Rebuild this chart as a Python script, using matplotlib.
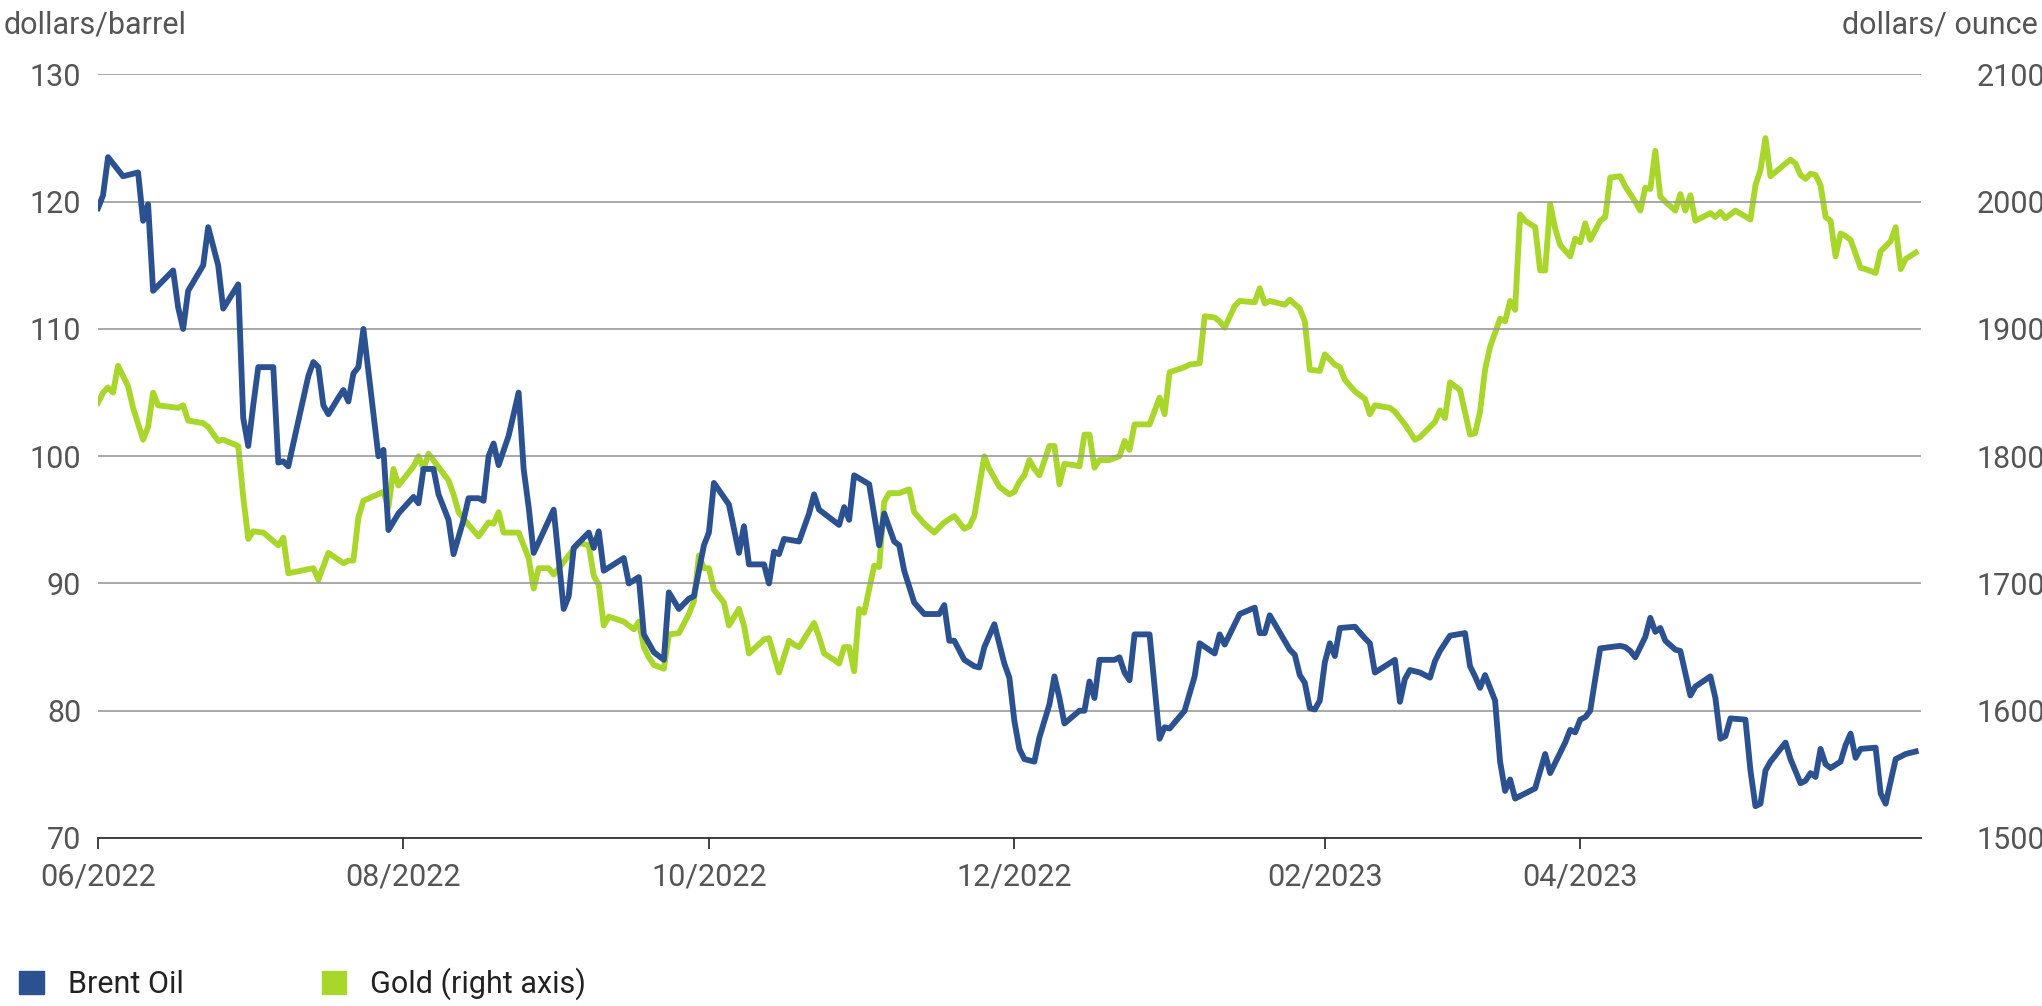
import matplotlib
matplotlib.use("Agg")
import matplotlib.pyplot as plt
from matplotlib.patches import Patch

plt.rcParams["font.family"] = "Roboto"

# x positions: day index on the chart's time scale (0 = start of 06/2022)
oil_days = [0,1,2,3,5,8,9,10,11,15,16,17,18,21,22,24,25,28,29,30,31,32,35,36,37,38,39,42,43,44,45,46,48,49,50,51,52,53,56,57,58,60,63,64,65,67,68,70,71,73,74,76,77,78,79,80,82,84,85,86,87,91,93,94,95,98,99,100,101,105,106,108,109,111,113,114,116,118,119,121,122,123,126,128,129,130,133,134,135,136,137,140,142,143,144,148,149,150,151,154,156,157,159,160,161,163,165,168,169,170,171,173,175,176,177,179,181,182,183,184,185,187,188,190,191,192,193,196,197,198,199,200,203,204,205,206,207,209,210,212,213,214,217,219,220,223,224,225,226,228,231,232,233,234,238,239,240,241,242,243,244,245,246,247,248,251,253,254,255,257,259,260,261,262,264,266,267,268,270,273,274,275,276,277,279,280,281,282,283,287,289,290,293,294,295,296,297,298,299,300,304,305,306,307,309,310,311,312,313,315,316,318,319,322,323,324,325,326,329,330,331,332,333,334,337,338,340,341,342,343,344,345,346,348,349,350,351,352,355,356,357,359,361,363]
oil = [119.5,120.5,123.5,123,122,122.3,118.5,119.8,113,114.6,111.7,110,113,115,118,115,111.6,113.5,103,100.8,104,107,107,99.5,99.6,99.2,101,106.3,107.4,107,104,103.3,104.6,105.2,104.3,106.5,107,110,100,100.5,94.2,95.5,96.8,96.3,99,99,97,95,92.3,95,96.7,96.7,96.5,100,101,99.3,101.6,105,99,96,92.4,95.8,88,89,92.8,94,92.8,94.1,91,92,90,90.5,86,84.6,84,89.3,88,88.8,89,93,94,97.9,96.2,92.4,94.5,91.5,91.5,90,92.5,92.3,93.5,93.3,95.5,97,95.8,94.6,96,95,98.5,97.8,93,95.5,93.3,93,91,88.5,87.6,87.6,88.3,85.5,85.5,84,83.5,83.4,85,86.8,83.7,82.6,79.2,77,76.2,76,77.9,80.5,82.7,81,79,80,80,82.3,81,84,84,84.2,83,82.4,86,86,86,77.8,78.7,78.6,80,82.7,85.3,84.5,86,85.2,86,87.6,88.1,86.1,86.1,87.5,84.8,84.4,82.8,82.2,80.2,80.1,80.8,83.8,85.3,84.3,86.5,86.6,85.7,85.3,83,83.5,84,80.7,82.5,83.2,83,82.6,83.9,84.7,85.9,86.1,83.5,82.7,81.8,82.8,80.8,76,73.7,74.6,73.1,73.9,76.6,75.1,77.5,78.5,78.3,79.3,79.5,80,82.5,84.9,85.1,85,84.7,84.2,85.8,87.3,86.2,86.5,85.5,84.8,84.7,81.2,81.9,82.7,81,77.8,78,79.4,79.3,75.3,72.5,72.7,75.3,76,77.5,76.2,74.3,74.5,75.1,74.8,77,75.8,75.5,76,77.3,78.2,76.3,77,77.1,73.5,72.7,76.2,76.6,76.8]

gold_days = [0,1,2,3,4,6,7,9,10,11,12,16,17,18,21,22,24,25,28,29,30,31,33,36,37,38,43,44,46,49,50,51,52,53,57,58,59,60,63,64,65,66,70,71,72,74,76,78,79,80,81,84,85,86,87,88,90,91,93,94,96,98,99,100,101,102,105,107,108,109,110,111,113,114,116,118,119,120,121,122,123,125,126,128,129,130,133,134,136,138,139,140,143,144,145,147,148,149,150,151,152,153,155,156,157,158,160,162,163,165,167,169,171,173,174,175,177,178,180,182,183,184,185,186,187,188,190,191,192,193,195,196,197,198,199,200,202,204,205,206,207,209,210,212,213,214,217,218,220,221,223,224,225,227,228,231,232,233,234,237,238,240,241,242,244,245,247,248,249,251,253,254,255,258,259,261,263,264,265,267,268,269,270,271,272,274,275,276,277,278,280,281,282,283,284,285,287,288,289,290,291,292,294,295,296,297,298,300,301,302,304,305,306,307,308,309,310,311,312,313,315,316,317,318,319,320,322,323,324,325,327,330,331,332,333,334,337,338,339,340,341,342,343,344,345,346,347,348,349,350,352,353,355,356,358,359,360,361,363]
gold = [1842,1850,1854,1850,1871,1855,1838,1813,1823,1850,1840,1838,1840,1828,1826,1823,1812,1813,1808,1768,1735,1741,1740,1730,1736,1708,1712,1703,1724,1716,1718,1718,1752,1765,1772,1760,1790,1777,1792,1800,1790,1802,1781,1770,1756,1746,1737,1748,1747,1756,1740,1740,1730,1720,1696,1712,1712,1707,1717,1722,1732,1730,1706,1699,1667,1674,1670,1664,1670,1650,1642,1636,1633,1660,1661,1676,1686,1722,1712,1712,1695,1685,1667,1680,1667,1645,1656,1657,1630,1655,1652,1650,1669,1658,1645,1640,1637,1650,1650,1631,1680,1677,1714,1713,1764,1771,1771,1774,1756,1747,1740,1748,1753,1743,1745,1753,1800,1790,1776,1770,1772,1780,1785,1797,1790,1785,1808,1808,1778,1794,1793,1792,1817,1817,1791,1797,1797,1800,1812,1805,1825,1825,1825,1846,1833,1866,1870,1872,1873,1910,1909,1906,1901,1918,1922,1921,1932,1920,1922,1919,1923,1916,1906,1868,1867,1880,1872,1870,1860,1851,1845,1833,1840,1838,1835,1825,1813,1815,1819,1827,1836,1830,1858,1855,1852,1817,1818,1835,1868,1886,1908,1906,1922,1915,1990,1985,1980,1946,1946,1998,1979,1966,1957,1971,1968,1983,1970,1985,1988,2019,2020,2012,2006,2000,1993,2011,2010,2040,2004,2000,1993,2006,1993,2005,1985,1987,1991,1988,1992,1987,1993,1986,2013,2025,2050,2020,2030,2033,2030,2021,2018,2022,2021,2013,1988,1985,1957,1975,1973,1970,1948,1947,1944,1961,1969,1980,1947,1955,1960]

tick_days = [0, 61, 122, 183, 245, 296]
tick_labels = ["06/2022", "08/2022", "10/2022", "12/2022", "02/2023", "04/2023"]

OIL_C = "#2b5191"
GOLD_C = "#a8d62a"
TXT = "#555555"
FS = 22

fig = plt.figure(figsize=(20.42, 10.06), dpi=100)
ax = fig.add_axes([0.048, 0.167, 0.8926, 0.759])
ax2 = ax.twinx()

ax2.plot(gold_days, gold, color=GOLD_C, lw=4.2, solid_joinstyle="round")
ax.plot(oil_days, oil, color=OIL_C, lw=4.2, solid_joinstyle="round")
ax.set_zorder(ax2.get_zorder() + 1)
ax.patch.set_visible(False)

ax.set_xlim(0, 364)
ax.set_ylim(70, 130)
ax2.set_ylim(1500, 2100)
ax.set_yticks(range(70, 131, 10))
ax2.set_yticks(range(1500, 2101, 100))
ax.set_xticks(tick_days)
ax.set_xticklabels(tick_labels)
for a in (ax, ax2):
    for s in ["top", "left", "right", "bottom"]:
        a.spines[s].set_visible(False)
    a.tick_params(axis="y", length=0, labelsize=FS, colors=TXT)
ax.tick_params(axis="y", pad=12)
ax2.tick_params(axis="y", pad=40)
ax.spines["bottom"].set_visible(True)
ax.spines["bottom"].set_color("#333333")
ax.spines["bottom"].set_linewidth(1.3)
ax.tick_params(axis="x", length=8, width=1.3, color="#333333", labelsize=FS, labelcolor=TXT, pad=10)
ax.yaxis.grid(True, color="#999999", lw=1.2)
ax.set_axisbelow(True)

fig.text(0.002, 0.975, "dollars/barrel", fontsize=FS, color=TXT, va="center")
fig.text(0.998, 0.975, "dollars/ ounce", fontsize=FS, color=TXT, va="center", ha="right")

handles = [Patch(color=OIL_C), Patch(color=GOLD_C)]
fig.legend(handles, ["Brent Oil", "Gold (right axis)"], loc="center left",
           bbox_to_anchor=(-0.004, 0.022), ncol=2, frameon=False, fontsize=FS,
           handlelength=0.8, handleheight=0.8, columnspacing=4.5, labelcolor="#222222")

fig.savefig("out.png", dpi=100)
